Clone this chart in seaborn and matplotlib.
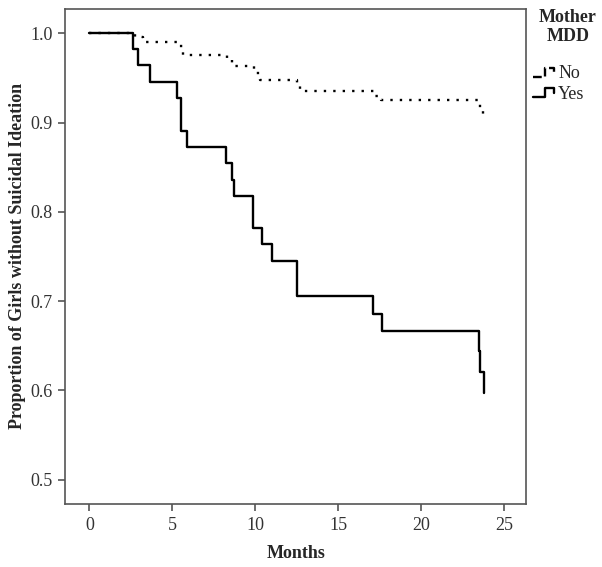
import numpy as np
import pandas as pd
import matplotlib
matplotlib.use("Agg")
import matplotlib.pyplot as plt
import seaborn as sns
from matplotlib.lines import Line2D
from matplotlib.legend_handler import HandlerBase

# -----------------------------
# DATA
# -----------------------------
no_months = [0, 2.76, 3.24, 5.35, 5.65, 8.31, 8.61, 9.94, 10.30, 12.53, 12.71,
             17.18, 17.60, 23.55, 23.76]
no_surv = [1.0, 0.996, 0.990, 0.986, 0.976, 0.971, 0.963, 0.955, 0.948, 0.941,
           0.935, 0.930, 0.925, 0.916, 0.907]

yes_months = [0, 2.64, 2.92, 3.66, 5.27, 5.52, 5.90, 8.23, 8.63, 8.73, 9.90,
              10.44, 11.01, 12.52, 17.10, 17.68, 23.50, 23.58, 23.78]
yes_surv = [1.0, 0.982, 0.964, 0.946, 0.927, 0.891, 0.873, 0.855, 0.836, 0.818,
            0.782, 0.764, 0.745, 0.706, 0.686, 0.666, 0.644, 0.620, 0.597]

groups = ["No", "Yes"]
x_ticks = [0, 5, 10, 15, 20, 25]
y_ticks = [0.5, 0.6, 0.7, 0.8, 0.9, 1.0]

df = pd.concat([
    pd.DataFrame({"Months": no_months, "Survival": no_surv, "Mother MDD": "No"}),
    pd.DataFrame({"Months": yes_months, "Survival": yes_surv, "Mother MDD": "Yes"}),
], ignore_index=True)

# -----------------------------
# STYLE
# -----------------------------
sns.set_style("ticks")
plt.rcParams["font.family"] = ["Liberation Serif", "DejaVu Serif"]
frame_col = "#555555"

fig = plt.figure(figsize=(6.02, 5.67), dpi=100)
ax = fig.add_axes([0.108, 0.111, 0.766, 0.8735])

line_w = 1.7
dash_map = {"No": (1, 3), "Yes": ""}

sns.lineplot(data=df, x="Months", y="Survival", hue="Mother MDD", style="Mother MDD",
             palette={"No": "black", "Yes": "black"}, dashes=dash_map,
             estimator=None, sort=False, drawstyle="steps-post", linewidth=line_w,
             legend=False, ax=ax)

ax.set_xlim(-1.47, 26.35)
ax.set_ylim(0.4725, 1.0275)
ax.set_xticks(x_ticks)
ax.set_yticks(y_ticks)
ax.set_yticklabels([f"{v:.1f}" for v in y_ticks])

ax.set_xlabel("Months", fontsize=13, fontweight="bold", labelpad=8)
ax.set_ylabel("Proportion of Girls without Suicidal Ideation", fontsize=13,
              fontweight="bold", labelpad=3)

for sp in ax.spines.values():
    sp.set_visible(True)
    sp.set_color(frame_col)
    sp.set_linewidth(1.2)
ax.tick_params(axis="both", direction="out", length=5, width=1.2, color=frame_col,
               labelsize=13, labelcolor="#333333", pad=4)


# -----------------------------
# LEGEND with step-shaped keys
# -----------------------------
class StepHandler(HandlerBase):
    def create_artists(self, legend, orig_handle, xdescent, ydescent, width,
                       height, fontsize, trans):
        xs = np.array([0.0, 0.5, 0.5, 0.9, 0.9]) * width - xdescent
        ys = np.array([0.1, 0.1, 0.8, 0.8, 0.45]) * height - ydescent
        ln = Line2D(xs, ys, color=orig_handle.get_color(),
                    linewidth=orig_handle.get_linewidth(),
                    linestyle=orig_handle.get_linestyle())
        ln.set_transform(trans)
        return [ln]


fig.text(568 / 602, 1 - 27 / 567, "Mother\nMDD", ha="center", va="center",
         fontsize=13, fontweight="bold", linespacing=1.1)

handles = [Line2D([], [], color="black", lw=line_w, linestyle=(0, (1, 3))),
           Line2D([], [], color="black", lw=line_w, linestyle="-")]
leg = ax.legend(handles, groups, loc="upper left",
                bbox_to_anchor=(533 / 602, 1 - 65 / 567),
                bbox_transform=fig.transFigure, frameon=False, fontsize=13,
                handler_map={Line2D: StepHandler()}, handlelength=1.3,
                handletextpad=0.1, labelspacing=0.2, borderpad=0,
                borderaxespad=0)

plt.savefig("out.png", dpi=100)
plt.close()
